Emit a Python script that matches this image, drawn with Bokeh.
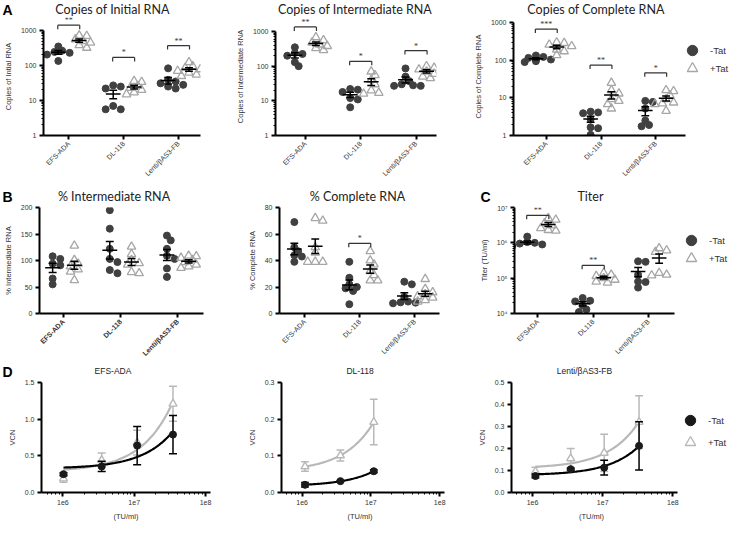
import math
import numpy as np
from bokeh.plotting import figure
from bokeh.layouts import row, column
from bokeh.models import (FixedTicker, NumeralTickFormatter, CustomJSTickFormatter, Range1d,
                          Legend, LegendItem, LabelSet, ColumnDataSource)
from bokeh.core.properties import value
from bokeh.embed import file_html
from bokeh.resources import INLINE

# ---------------- data ----------------
CATS = ["EFS-ADA", "DL-118", "Lenti/βAS3-FB"]
CATS_TITER = ["EFSADA", "DL118", "Lenti/βAS3-FB"]
SERIES = ["-Tat", "+Tat"]
PANEL_LETTERS = ["A", "B", "C", "D"]
TITLES_A = ["Copies of Initial RNA", "Copies of Intermediate RNA", "Copies of Complete RNA"]
TITLES_B = ["% Intermediate RNA", "% Complete RNA", "Titer"]
TITLES_D = ["EFS-ADA", "DL-118", "Lenti/βAS3-FB"]
VCN_X_LABEL = "(TU/ml)"

initial_minus = [[350, 265, 245, 230, 205, 135], [27, 25, 22, 7, 5.6, 5.6], [83, 39, 35, 31, 28, 25, 22]]
initial_plus = [[720, 700, 560, 500, 450, 380, 320], [36, 34, 26, 23, 20, 17, 15], [125, 95, 85, 78, 70, 62, 55, 50]]
initial_sig = ["**", "*", "**"]
initial_sig_level = [1420, 170, 370]

inter_minus = [[350, 240, 225, 200, 130, 100], [22, 21, 18, 12, 11, 6.5], [86, 50, 37, 30, 28, 27, 27]]
inter_plus = [[680, 560, 480, 420, 380, 330, 290], [70, 55, 40, 30, 20, 17, 16], [100, 90, 80, 70, 60, 50, 45]]
inter_sig = ["**", "*", "*"]
inter_sig_level = [1350, 138, 282]

complete_minus = [[133, 122, 115, 104, 94, 89], [4.3, 4.1, 3.9, 2.7, 1.65, 1.56, 1.04], [8.3, 7.8, 5.2, 2.5, 1.9, 1.76]]
complete_plus = [[296, 285, 258, 235, 190, 172, 135], [25, 16, 13, 9.2, 8.3, 6.8, 5.2], [16, 15, 11.7, 9.2, 7.5, 7.1, 6.8, 4.5]]
complete_sig = ["***", "**", "*"]
complete_sig_level = [670, 74, 46]

pct_inter_minus = [[108, 103, 94, 91, 66, 55], [195, 160, 122, 103, 97, 82, 76], [147, 138, 122, 109, 103, 85, 69]]
pct_inter_plus = [[128, 101, 94, 89, 83, 79, 63], [126, 112, 101, 95, 92, 78, 76], [109, 108, 105, 101, 97, 92, 89, 86]]
pct_inter_sig = ["", "", ""]
pct_inter_sig_level = [None, None, None]

pct_complete_minus = [[69, 50, 47, 44, 43, 39], [39, 27, 22, 20, 19, 17, 7], [24, 22, 12.5, 9, 8.4, 8.2, 7.7]]
pct_complete_plus = [[72, 70, 50, 46, 39, 39, 39], [47, 40, 37, 32, 29, 25, 25], [26, 18.5, 16, 14.5, 13, 12, 10, 9]]
pct_complete_sig = ["", "*", ""]
pct_complete_sig_level = [None, 53, None]

titer_minus = [[1.5e6, 1.05e6, 1.0e6, 0.95e6, 0.9e6, 0.8e6], [2.75e4, 2.3e4, 2.2e4, 1.7e4, 1.3e4, 1.1e4],
               [3.0e5, 2.9e5, 1.25e5, 0.8e5, 0.78e5, 0.54e5]]
titer_plus = [[5e6, 4.5e6, 3.6e6, 3.1e6, 2.6e6, 2.3e6, 2.2e6], [1.4e5, 1.25e5, 1.15e5, 1.0e5, 0.9e5, 0.8e5, 0.75e5],
              [7e5, 6.1e5, 5.5e5, 1.4e5, 1.25e5, 1.2e5]]
titer_sig = ["**", "**", ""]
titer_sig_level = [6e6, 2.3e5, None]

vcn_efs_x = [1.02e6, 3.5e6, 1.1e7, 3.5e7]
vcn_efs_minus = [0.25, 0.355, 0.64, 0.79]
vcn_efs_minus_sem = [0.02, 0.07, 0.26, 0.26]
vcn_efs_plus = [0.19, 0.44, 0.68, 1.21]
vcn_efs_plus_sem = [0.05, 0.10, 0.17, 0.24]

vcn_dl_x = [1.1e6, 3.6e6, 1.1e7]
vcn_dl_minus = [0.021, 0.031, 0.058]
vcn_dl_minus_sem = [0.006, 0.002, 0.004]
vcn_dl_plus = [0.071, 0.101, 0.192]
vcn_dl_plus_sem = [0.013, 0.015, 0.062]

vcn_lenti_x = [1.1e6, 3.5e6, 1.05e7, 3.3e7]
vcn_lenti_minus = [0.075, 0.106, 0.113, 0.212]
vcn_lenti_minus_sem = [0.008, 0.005, 0.034, 0.11]
vcn_lenti_plus = [0.095, 0.155, 0.18, 0.32]
vcn_lenti_plus_sem = [0.02, 0.045, 0.085, 0.12]

# ---------------- style ----------------
DARK = "#404040"
LIGHT = "#a6a6a6"
LIGHT_D = "#b8b8b8"
TXT = "#333333"
TICK_FONT = "Liberation Sans"
TITLE_FONT = "Lato"
GROUP_DX = 0.19
MEAN_HW = 7.5
CAP_HW = 4.0
BR_HW = 0.2
BR_DROP = 4.0
PAGE_W = 732


def log_minor(lo, hi):
    return [m * 10 ** e for e in range(lo, hi) for m in range(2, 10)]


def base_fig(geom, xr, yr, x_type="linear", y_type="linear"):
    w, h, bl, bt, fw, fh = geom
    p = figure(width=w, height=h, x_range=Range1d(*xr), y_range=Range1d(*yr),
               x_axis_type=x_type, y_axis_type=y_type, output_backend="svg",
               toolbar_location=None, min_border_left=bl, min_border_top=bt,
               min_border_right=w - bl - fw, min_border_bottom=h - bt - fh)
    p.outline_line_color = None
    p.xgrid.visible = False
    p.ygrid.visible = False
    for ax in p.axis:
        ax.axis_line_width = 2
        ax.axis_line_color = "black"
        ax.major_tick_line_width = 2
        ax.major_tick_line_color = "black"
        ax.major_tick_out = 4
        ax.major_tick_in = 0
        ax.minor_tick_line_width = 1
        ax.minor_tick_line_color = "black"
        ax.minor_tick_out = 2
        ax.minor_tick_in = 0
        ax.major_label_text_font = TICK_FONT
        ax.major_label_text_font_size = "7px"
        ax.major_label_text_color = TXT
        ax.major_label_standoff = 3
        ax.axis_label_text_font = TICK_FONT
        ax.axis_label_text_font_size = "7.5px"
        ax.axis_label_text_font_style = "normal"
        ax.axis_label_text_color = TXT
        ax.axis_label_standoff = 5
    return p


def header(h, letters, titles, title_font, title_size, title_color="#222222"):
    """letters: [(x, y_middle, text)], titles: [(x_center, y_middle, text)] in strip pixels"""
    p = figure(width=PAGE_W, height=h, x_range=Range1d(0, PAGE_W), y_range=Range1d(h, 0),
               output_backend="svg", toolbar_location=None, min_border=0,
               x_axis_location=None, y_axis_location=None)
    p.outline_line_color = None
    p.xgrid.visible = False
    p.ygrid.visible = False
    if letters:
        p.text(x=[l[0] for l in letters], y=[l[1] for l in letters], text=[l[2] for l in letters],
               text_font=value(TICK_FONT), text_font_size="14px", text_font_style="bold",
               text_color="black", text_baseline="middle", text_align="left")
    p.text(x=[t[0] for t in titles], y=[t[1] for t in titles], text=[t[2] for t in titles],
           text_font=value(title_font), text_font_size=title_size, text_color=title_color,
           text_baseline="middle", text_align="center")
    return p


def swarm(vals, yppu, log, xppu, diam=7.0):
    v = np.asarray(vals, float)
    y = (np.log10(v) if log else v) * yppu
    order = np.argsort(-y)
    placed = []
    off = np.zeros(len(v))
    for i in order:
        xo = 0.0
        for k in (0, 1, -1, 2, -2, 3, -3, 4, -4):
            xo = k * diam * 0.55
            if all((xo - px) ** 2 + (y[i] - py) ** 2 >= (0.75 * diam) ** 2 for px, py in placed):
                break
        placed.append((xo, y[i]))
        off[i] = xo / xppu
    return off


def add_legend(p, r_minus, r_plus, locs):
    for label, r, loc in ((SERIES[0], r_minus, locs[0]), (SERIES[1], r_plus, locs[1])):
        p.add_layout(Legend(items=[LegendItem(label=label, renderers=[r])],
                            location=loc, glyph_width=26, glyph_height=26, label_height=26,
                            label_standoff=5, spacing=0, padding=0, margin=0,
                            border_line_color=None, background_fill_alpha=0,
                            label_text_font=TICK_FONT, label_text_font_size="9.5px",
                            label_text_color=TXT))


def dot_panel(geom, xr, data_fw, yr, log, cats, minus, plus, sig, sig_level, ylab,
              yticks, yminor, yfmt, ybounds=None, bold_x=False):
    w, h, bl, bt, fw, fh = geom
    xppu = data_fw / (xr[1] - xr[0])
    full_xr = (xr[0], xr[0] + fw / xppu)
    p = base_fig(geom, full_xr, yr, y_type="log" if log else "linear")
    span = (math.log10(yr[1]) - math.log10(yr[0])) if log else (yr[1] - yr[0])
    yppu = fh / span

    mx, my, qx, qy = [], [], [], []
    seg = dict(x0=[], y0=[], x1=[], y1=[])

    def add(x0, y0, x1, y1):
        seg["x0"].append(x0); seg["y0"].append(y0); seg["x1"].append(x1); seg["y1"].append(y1)

    for i, (gm, gp) in enumerate(zip(minus, plus)):
        c = i + 1
        for g, dx, xs, ys in ((gm, -GROUP_DX, mx, my), (gp, GROUP_DX, qx, qy)):
            off = swarm(g, yppu, log, xppu)
            xs.extend(list(c + dx + off))
            ys.extend(list(g))
            m = float(np.mean(g))
            s = float(np.std(g, ddof=1) / np.sqrt(len(g)))
            hw = MEAN_HW / xppu
            cw = CAP_HW / xppu
            add(c + dx - hw, m, c + dx + hw, m)
            add(c + dx, m - s, c + dx, m + s)
            add(c + dx - cw, m + s, c + dx + cw, m + s)
            add(c + dx - cw, m - s, c + dx + cw, m - s)

    r_minus = p.scatter(mx, my, marker="circle", size=7, fill_color=DARK, line_color=DARK)
    r_plus = p.scatter(qx, qy, marker="triangle", size=8.5, fill_color=None,
                       line_color=LIGHT, line_width=1.3)
    p.segment(x0="x0", y0="y0", x1="x1", y1="y1", source=ColumnDataSource(seg),
              line_color="black", line_width=1.5)

    br = dict(x0=[], y0=[], x1=[], y1=[])
    st = dict(x=[], y=[], text=[])
    for i, (s, lvl) in enumerate(zip(sig, sig_level)):
        if not s:
            continue
        c = i + 1
        low = lvl / 10 ** (BR_DROP / yppu) if log else lvl - BR_DROP / yppu
        for a in ((c - BR_HW, lvl, c + BR_HW, lvl), (c - BR_HW, lvl, c - BR_HW, low),
                  (c + BR_HW, lvl, c + BR_HW, low)):
            br["x0"].append(a[0]); br["y0"].append(a[1]); br["x1"].append(a[2]); br["y1"].append(a[3])
        st["x"].append(c); st["y"].append(lvl); st["text"].append(s)
    if br["x0"]:
        p.segment(x0="x0", y0="y0", x1="x1", y1="y1", source=ColumnDataSource(br),
                  line_color="#333333", line_width=1.2)
        p.add_layout(LabelSet(x="x", y="y", text="text", source=ColumnDataSource(st),
                              text_align="center", text_baseline="bottom", y_offset=0,
                              text_font=TICK_FONT, text_font_size="8px", text_color=TXT))

    p.xaxis.ticker = FixedTicker(ticks=[1, 2, 3])
    p.xaxis.major_label_overrides = {1: cats[0], 2: cats[1], 3: cats[2]}
    p.xaxis.major_label_orientation = math.pi / 4
    p.xaxis.bounds = xr
    if bold_x:
        p.xaxis.major_label_text_font_style = "bold"
    p.yaxis.ticker = FixedTicker(ticks=yticks, minor_ticks=yminor)
    p.yaxis.formatter = yfmt
    p.yaxis.axis_label = ylab
    if ybounds is not None:
        p.yaxis.bounds = ybounds
    return p, r_minus, r_plus


D_LOG_XR = (5.7, 8.07)


def vcn_panel(geom, data_fw, x, mm, ms, pm, ps, yr, yticks):
    w, h, bl, bt, fw, fh = geom
    dec_px = data_fw / (D_LOG_XR[1] - D_LOG_XR[0])
    xr = (10 ** D_LOG_XR[0], 10 ** (D_LOG_XR[0] + fw / dec_px))
    p = base_fig(geom, xr, yr, x_type="log")
    cap = 10 ** (CAP_HW / dec_px)
    xs = np.asarray(x, float)
    rends = {}
    for key, m, s, col in (("plus", pm, ps, LIGHT_D), ("minus", mm, ms, "black")):
        m = np.asarray(m, float)
        s = np.asarray(s, float)
        b, a = np.polyfit(xs, m, 1)
        xx = np.logspace(math.log10(xs.min()), math.log10(xs.max()), 80)
        p.line(xx, a + b * xx, line_color=col, line_width=2.2)
        p.segment(xs, m - s, xs, m + s, line_color=col, line_width=1.5)
        p.segment(xs / cap, m + s, xs * cap, m + s, line_color=col, line_width=1.5)
        p.segment(xs / cap, m - s, xs * cap, m - s, line_color=col, line_width=1.5)
        if key == "minus":
            rends[key] = p.scatter(xs, m, marker="circle", size=7, fill_color="#1a1a1a",
                                   line_color="#1a1a1a")
        else:
            rends[key] = p.scatter(xs, m, marker="triangle", size=8, fill_color="white",
                                   line_color=LIGHT_D, line_width=1.4)
    p.xaxis.ticker = FixedTicker(ticks=[1e6, 1e7, 1e8], minor_ticks=log_minor(5, 8))
    p.xaxis.formatter = CustomJSTickFormatter(code="return '1e' + Math.round(Math.log10(tick));")
    p.xaxis.bounds = (10 ** D_LOG_XR[0], 10 ** D_LOG_XR[1])
    p.yaxis.ticker = FixedTicker(ticks=yticks)
    p.yaxis.formatter = NumeralTickFormatter(format="0.0")
    p.yaxis.axis_label = "VCN"
    return p, rends["minus"], rends["plus"]


SUP_JS = """
const sup = {'0':'\u2070','1':'\u00b9','2':'\u00b2','3':'\u00b3','4':'\u2074','5':'\u2075','6':'\u2076','7':'\u2077','8':'\u2078','9':'\u2079','-':'\u207b'};
const e = Math.round(Math.log10(tick));
return '10' + String(e).split('').map(c => sup[c]).join('');
"""

# ---------------- geometry (fig width, height, border left, border top, frame w, frame h) ----------------
GA = [(232, 165, 40, 0, 160, 118), (238, 165, 41, 0, 163, 118), (262, 165, 37, 0, 225, 118)]
GA_DATA_FW = [160, 163, 177]
GB = [(244, 158, 38, 3, 165, 108), (232, 158, 31, 3, 164, 108), (256, 158, 32, 3, 224, 108)]
GB_DATA_FW = [165, 164, 164]
GD = [(244, 131, 41, 3, 169, 110), (230, 131, 31, 3, 169, 110), (258, 131, 32, 3, 226, 110)]
GD_DATA_FW = [169, 169, 170]
HDR_H = [17, 22, 17, 12]
TITLE_DX_A = [-8, 0, 0]
TITLE_DX_B = [-7, 0, 0]
TITLE_DX_D = [-13, 0, -7]


def centers(geoms, data_fws, dxs):
    out, left = [], 0
    for g, dfw, dx in zip(geoms, data_fws, dxs):
        out.append(left + g[2] + dfw / 2 + dx)
        left += g[0]
    return out


def lefts(geoms):
    out, left = [], 0
    for g in geoms:
        out.append(left)
        left += g[0]
    return out

# ---------------- panels ----------------
a1, _, _ = dot_panel(GA[0], (0.54, 3.4), GA_DATA_FW[0], (1, 2352), True, CATS,
                     initial_minus, initial_plus, initial_sig, initial_sig_level,
                     "Copies of Intial RNA", [1, 10, 100, 1000], log_minor(0, 3),
                     NumeralTickFormatter(format="0"), ybounds=(1, 1000))
a2, _, _ = dot_panel(GA[1], (0.46, 3.37), GA_DATA_FW[1], (1, 2531), True, CATS,
                     inter_minus, inter_plus, inter_sig, inter_sig_level,
                     "Copies of Intermediate RNA", [1, 10, 100, 1000], log_minor(0, 3),
                     NumeralTickFormatter(format="0"), ybounds=(1, 1000))
a3, a3m, a3p = dot_panel(GA[2], (0.4, 3.55), GA_DATA_FW[2], (1, 1358), True, CATS,
                         complete_minus, complete_plus, complete_sig, complete_sig_level,
                         "Copies of Complete RNA", [1, 10, 100, 1000], log_minor(0, 3),
                         NumeralTickFormatter(format="0"), ybounds=(1, 1000))
add_legend(a3, a3m, a3p, [(166, 72), (166, 54)])

b1, _, _ = dot_panel(GB[0], (0.58, 3.45), GB_DATA_FW[0], (0, 200), False, CATS,
                     pct_inter_minus, pct_inter_plus, pct_inter_sig, pct_inter_sig_level,
                     "% Intermediate RNA", [0, 50, 100, 150, 200], [],
                     NumeralTickFormatter(format="0"), bold_x=True)
b2, _, _ = dot_panel(GB[1], (0.54, 3.45), GB_DATA_FW[1], (0, 80), False, CATS,
                     pct_complete_minus, pct_complete_plus, pct_complete_sig, pct_complete_sig_level,
                     "% Complete RNA", [0, 20, 40, 60, 80], [], NumeralTickFormatter(format="0"))
c1, cm, cp = dot_panel(GB[2], (0.58, 3.46), GB_DATA_FW[2], (1e4, 1e7), True, CATS_TITER,
                       titer_minus, titer_plus, titer_sig, titer_sig_level,
                       "Titer (TU/ml)", [1e4, 1e5, 1e6, 1e7], log_minor(4, 7),
                       CustomJSTickFormatter(code=SUP_JS))
add_legend(c1, cm, cp, [(164, 60), (164, 42)])

d1, _, _ = vcn_panel(GD[0], GD_DATA_FW[0], vcn_efs_x, vcn_efs_minus, vcn_efs_minus_sem,
                     vcn_efs_plus, vcn_efs_plus_sem, (0, 1.5), [0, 0.5, 1.0, 1.5])
d2, _, _ = vcn_panel(GD[1], GD_DATA_FW[1], vcn_dl_x, vcn_dl_minus, vcn_dl_minus_sem,
                     vcn_dl_plus, vcn_dl_plus_sem, (0, 0.3), [0, 0.1, 0.2, 0.3])
d3, dm, dp = vcn_panel(GD[2], GD_DATA_FW[2], vcn_lenti_x, vcn_lenti_minus, vcn_lenti_minus_sem,
                       vcn_lenti_plus, vcn_lenti_plus_sem, (0, 0.5), [0, 0.1, 0.2, 0.3, 0.4, 0.5])
add_legend(d3, dm, dp, [(166, 59), (166, 37)])

# ---------------- strips with panel letters, titles and the VCN x-axis label ----------------
ca = centers(GA, GA_DATA_FW, TITLE_DX_A)
cb = centers(GB, GB_DATA_FW, TITLE_DX_B)
cd = centers(GD, GD_DATA_FW, TITLE_DX_D)
cdx = centers(GD, GD_DATA_FW, [0, 0, 0])
lb = lefts(GB)
hA = header(HDR_H[0], [(2, 9, PANEL_LETTERS[0])],
            [(ca[i], 9, TITLES_A[i]) for i in range(3)], TITLE_FONT, "12.5px")
hB = header(HDR_H[1], [(2, 14, PANEL_LETTERS[1]), (lb[2] + 4, 14, PANEL_LETTERS[2])],
            [(cb[i], 14, TITLES_B[i]) for i in range(3)], TITLE_FONT, "12.5px")
hD = header(HDR_H[2], [(2, 9, PANEL_LETTERS[3])],
            [(cd[i], 8.5, TITLES_D[i]) for i in range(3)], TICK_FONT, "8.5px")
fD = header(HDR_H[3], [], [(cdx[i], 6, VCN_X_LABEL) for i in range(3)], TICK_FONT, "7.5px", TXT)

layout = column(hA, row(a1, a2, a3), hB, row(b1, b2, c1), hD, row(d1, d2, d3), fD)
open("out.html", "w").write(file_html(layout, INLINE))
